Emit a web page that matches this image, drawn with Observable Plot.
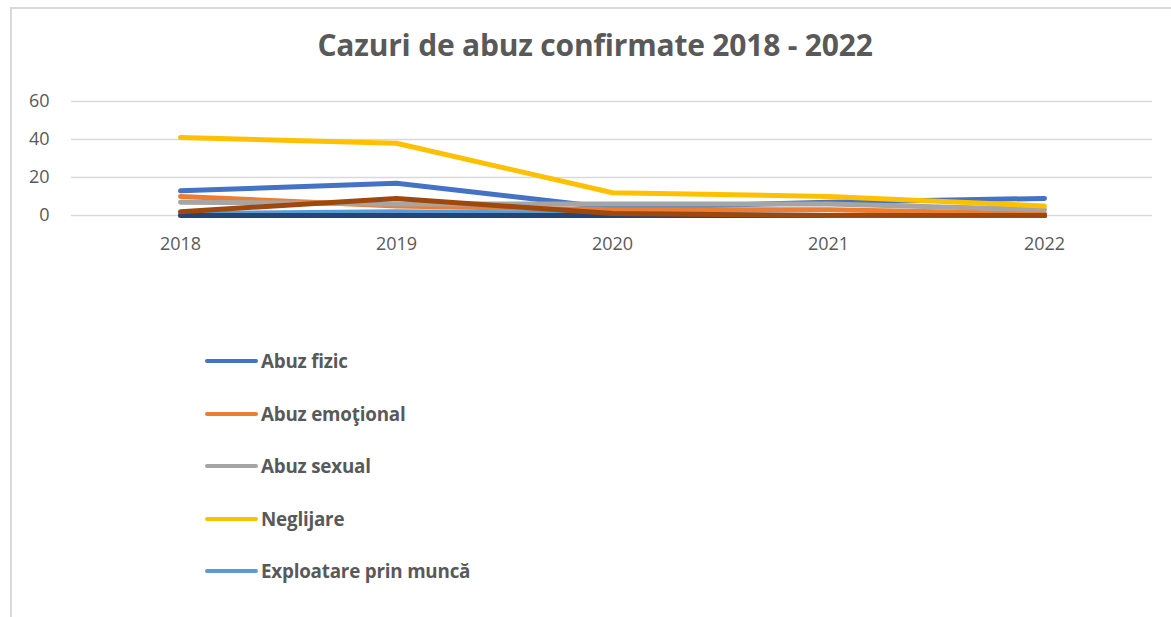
<!DOCTYPE html>
<html>
<head>
<meta charset="utf-8">
<script src="https://cdn.jsdelivr.net/npm/d3@7"></script>
<script src="https://cdn.jsdelivr.net/npm/@observablehq/plot@0.6"></script>
<style>
  html, body { margin: 0; padding: 0; background: #fff; }
  #wrap { position: relative; width: 1171px; height: 617px; overflow: hidden; background: #fff; font-family: "Open Sans", sans-serif; }
  #frame { position: absolute; left: 10px; top: 7px; right: -10px; bottom: -10px; border-left: 2px solid #d9d9d9; border-top: 2px solid #d9d9d9; }
  #title { position: absolute; left: 0; width: 1190px; top: 25px; text-align: center; font-size: 30px; font-weight: 700; color: #595959; letter-spacing: -0.2px; line-height: 40px; }
  #chart { position: absolute; left: 0; top: 80px; }
  #legend { position: absolute; left: 205px; top: 335px; }
  .item { display: flex; align-items: center; height: 52.5px; margin: 0; }
  .sw { width: 53px; height: 4px; border-radius: 2px; margin-right: 3px; }
  .lab { font-size: 18.8px; font-weight: 700; color: #595959; letter-spacing: -0.2px; }
</style>
</head>
<body>
<div id="wrap">
  <div id="frame"></div>
  <div id="title">Cazuri de abuz confirmate 2018 - 2022</div>
  <div id="chart"></div>
  <div id="legend"></div>
</div>
<script>
const years = ["2018", "2019", "2020", "2021", "2022"];
const seriesNames = ["Abuz fizic", "Abuz emoţional", "Abuz sexual", "Neglijare", "Exploatare prin muncă", "Seria 6", "Seria 7"];
const seriesColors = ["#4472C4", "#ED7D31", "#A5A5A5", "#FFC000", "#5B9BD5", "#264478", "#9E480E"];
const abuzFizic = [13, 17, 4, 7, 9];
const abuzEmotional = [10, 5, 3, 3, 1];
const abuzSexual = [7, 6, 6, 6, 3];
const neglijare = [41, 38, 12, 10, 5];
const exploatare = [1, 2, 1, 0, 0];
const seria6 = [0, 0, 0, 0, 0];
const seria7 = [2, 9, 1, 0, 0];
const legendNames = seriesNames.slice(0, 5);
const yTicks = [0, 20, 40, 60];

const allValues = [abuzFizic, abuzEmotional, abuzSexual, neglijare, exploatare, seria6, seria7];
const rows = [];
allValues.forEach((vals, si) => {
  vals.forEach((v, i) => rows.push({series: seriesNames[si], year: years[i], value: v}));
});

const chart = Plot.plot({
  width: 1171,
  height: 175,
  marginLeft: 71,
  marginRight: 19,
  marginTop: 21,
  marginBottom: 40,
  style: {fontFamily: "Open Sans, sans-serif", fontSize: "18px", color: "#595959", background: "transparent"},
  x: {type: "point", domain: years, padding: 0.5, label: null},
  y: {domain: [0, 60], ticks: yTicks, label: null},
  color: {domain: seriesNames, range: seriesColors},
  marks: [
    Plot.gridY(yTicks, {stroke: "#d9d9d9", strokeOpacity: 1, strokeWidth: 1.5}),
    Plot.axisY(yTicks, {tickSize: 0, tickPadding: 22, fontSize: 18, fill: "#595959", label: null}),
    Plot.axisX({tickSize: 0, tickPadding: 22, fontSize: 18, fill: "#595959", label: null}),
    Plot.line(rows, {x: "year", y: "value", z: "series", stroke: "series", strokeWidth: 5, strokeLinecap: "round", strokeLinejoin: "round"})
  ]
});
document.getElementById("chart").appendChild(chart);

const legend = document.getElementById("legend");
legendNames.forEach((name, i) => {
  const item = document.createElement("div");
  item.className = "item";
  const sw = document.createElement("div");
  sw.className = "sw";
  sw.style.background = seriesColors[i];
  const lab = document.createElement("span");
  lab.className = "lab";
  lab.textContent = name;
  item.appendChild(sw);
  item.appendChild(lab);
  legend.appendChild(item);
});
</script>
</body>
</html>
